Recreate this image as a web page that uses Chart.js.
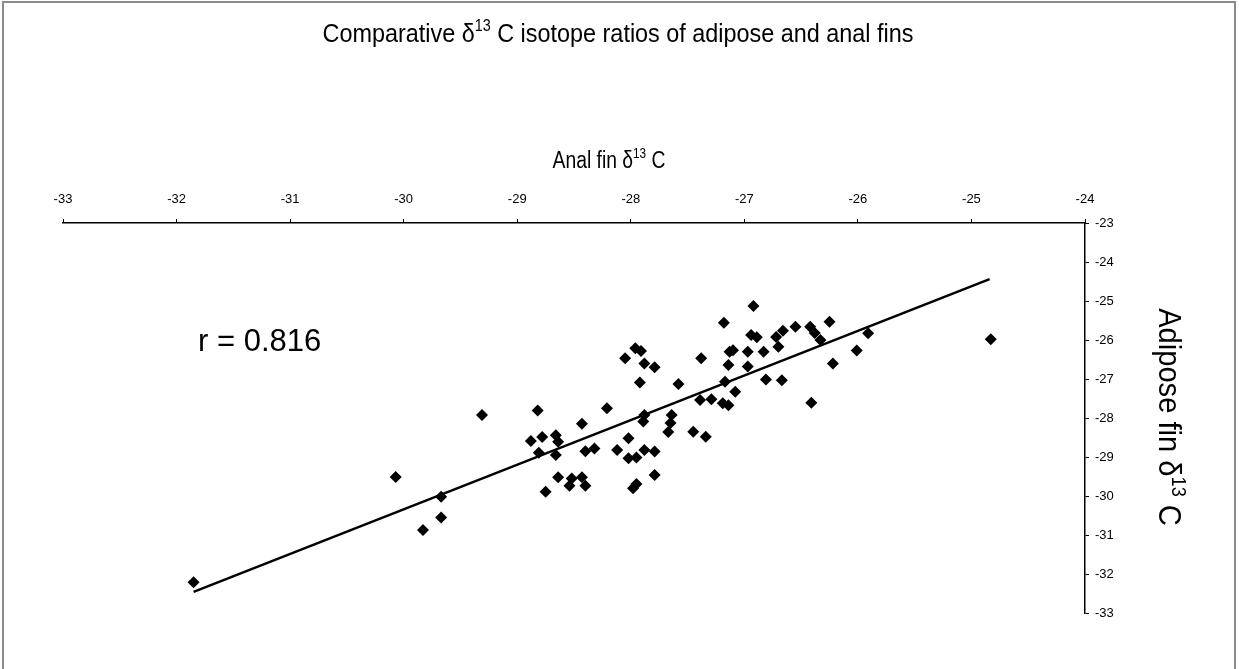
<!DOCTYPE html>
<html>
<head>
<meta charset="utf-8">
<title>Comparative d13C isotope ratios</title>
<script src="https://cdn.jsdelivr.net/npm/chart.js@4.4.0/dist/chart.umd.min.js"></script>
<style>
  html, body { margin: 0; padding: 0; background: #fff; }
  #wrap { width: 1239px; height: 669px; }
</style>
</head>
<body>
<div id="wrap"><canvas id="isoChart" width="1239" height="669"></canvas></div>
<script>
// values
const analFin = [
  -31.85, -30.07, -29.67, -29.67, -29.83, -29.31, -28.82, -28.21, -28.43, -28.88,
  -28.78, -28.66, -28.64, -28.81, -28.66, -28.40, -28.32, -28.12, -28.64, -28.52,
  -28.43, -28.54, -28.40, -28.75, -27.92, -27.58, -27.88, -27.89, -27.64, -27.65,
  -27.67, -27.45, -27.34, -27.39, -27.29, -27.19, -27.14, -27.08, -28.02, -27.88,
  -27.79, -28.02, -27.95, -27.79, -27.95, -27.98, -26.92, -27.18, -26.94, -26.89,
  -26.66, -26.55, -26.72, -26.70, -26.42, -26.38, -26.33, -26.25, -25.91, -26.01,
  -26.22, -27.13, -27.10, -26.97, -26.83, -27.14, -26.97, -27.38, -26.81, -26.67,
  -27.17, -26.41, -27.96, -27.91, -28.05, -27.88, -27.79, -24.83
];
const adiposeFin = [
  -32.21, -29.51, -30.02, -30.55, -30.87, -27.92, -27.81, -27.75, -28.15, -28.59,
  -28.49, -28.44, -28.61, -28.89, -28.95, -28.85, -28.78, -28.82, -29.52, -29.55,
  -29.52, -29.74, -29.74, -29.89, -27.09, -27.13, -27.92, -28.09, -27.92, -28.13,
  -28.36, -28.35, -28.48, -27.54, -27.52, -27.62, -27.67, -27.33, -28.52, -28.82,
  -28.86, -29.03, -29.01, -29.46, -29.69, -29.80, -25.13, -25.56, -25.87, -25.93,
  -25.76, -25.66, -25.92, -26.17, -25.66, -25.82, -26.00, -25.53, -25.83, -26.27,
  -26.60, -26.30, -26.26, -26.30, -26.30, -26.64, -26.68, -26.47, -27.01, -27.03,
  -27.07, -27.61, -26.21, -26.28, -26.47, -26.60, -26.70, -25.98
];
// linear trend line end points, as drawn in the picture
const trendX = [-31.85, -24.84];
const trendY = [-32.46, -24.44];
const xRange = [-33, -24];
const yRange = [-33, -23];
const correlationText = "r = 0.816";

const FONT = "'Liberation Sans', Arial, sans-serif";

const points = analFin.map(function (x, i) { return { x: x, y: adiposeFin[i] }; });
const trend = trendX.map(function (x, i) { return { x: x, y: trendY[i] }; });

// draws "text" + superscript "13" + rest, centred on 0, baseline at 0,
// squeezed horizontally by sx to look like the narrow font of the original
function drawSup(ctx, parts, cx, y, size, sx) {
  const supSize = Math.round(size * 0.62);
  ctx.save();
  ctx.translate(cx, y);
  ctx.scale(sx, 1);
  ctx.font = size + "px " + FONT;
  const w0 = ctx.measureText(parts[0]).width;
  const w2 = ctx.measureText(parts[2]).width;
  ctx.font = supSize + "px " + FONT;
  const w1 = ctx.measureText(parts[1]).width;
  let x = -(w0 + w1 + w2) / 2;
  ctx.textAlign = "left";
  ctx.textBaseline = "alphabetic";
  ctx.font = size + "px " + FONT;
  ctx.fillText(parts[0], x, 0);
  x += w0;
  ctx.font = supSize + "px " + FONT;
  ctx.fillText(parts[1], x, -size * 0.42);
  x += w1;
  ctx.font = size + "px " + FONT;
  ctx.fillText(parts[2], x, 0);
  ctx.restore();
}

const textPlugin = {
  id: "isoText",
  afterDraw: function (chart) {
    const ctx = chart.ctx;
    ctx.save();
    // outer frame (left, top, right)
    ctx.strokeStyle = "#8c8c8c";
    ctx.lineWidth = 2;
    ctx.beginPath();
    ctx.moveTo(3, 669);
    ctx.lineTo(3, 2);
    ctx.lineTo(1235, 2);
    ctx.lineTo(1235, 669);
    ctx.stroke();

    ctx.fillStyle = "#000";
    drawSup(ctx, ["Comparative \u03b4", "13", " C isotope ratios of adipose and anal fins"], 618, 42, 26, 0.9);
    drawSup(ctx, ["Anal fin \u03b4", "13", " C"], 609, 168, 23, 0.84);

    ctx.font = "31px " + FONT;
    ctx.textAlign = "left";
    ctx.textBaseline = "alphabetic";
    ctx.fillText(correlationText, 198, 351);

    ctx.translate(1159, 417);
    ctx.rotate(Math.PI / 2);
    drawSup(ctx, ["Adipose fin \u03b4", "13", " C"], 0, 0, 32, 0.91);
    ctx.restore();
  }
};

new Chart(document.getElementById("isoChart"), {
  type: "scatter",
  data: {
    datasets: [
      {
        label: "Fins",
        data: points,
        pointStyle: "rectRot",
        pointRadius: 6,
        backgroundColor: "#000",
        borderColor: "#000",
        borderWidth: 0
      },
      {
        label: "Trend",
        data: trend,
        showLine: true,
        pointRadius: 0,
        borderColor: "#000",
        borderWidth: 2.5,
        fill: false
      }
    ]
  },
  options: {
    responsive: false,
    animation: false,
    layout: { padding: { left: 63, right: 0, top: 0, bottom: 56 } },
    plugins: {
      legend: { display: false },
      tooltip: { enabled: false },
      title: { display: false }
    },
    scales: {
      x: {
        type: "linear",
        position: "top",
        min: xRange[0],
        max: xRange[1],
        ticks: { stepSize: 1, color: "#000", padding: 12, font: { size: 13, family: FONT } },
        grid: { drawOnChartArea: false, drawTicks: true, tickLength: 4, color: "#000" },
        border: { color: "#000", width: 1.5 },
        afterFit: function (s) { s.height = 223; }
      },
      y: {
        type: "linear",
        position: "right",
        min: yRange[0],
        max: yRange[1],
        ticks: { stepSize: 1, color: "#000", padding: 6, font: { size: 13, family: FONT } },
        grid: { drawOnChartArea: false, drawTicks: true, tickLength: 4, color: "#000" },
        border: { color: "#000", width: 1.5 },
        afterFit: function (s) { s.width = 154; }
      }
    }
  },
  plugins: [textPlugin]
});
</script>
</body>
</html>
